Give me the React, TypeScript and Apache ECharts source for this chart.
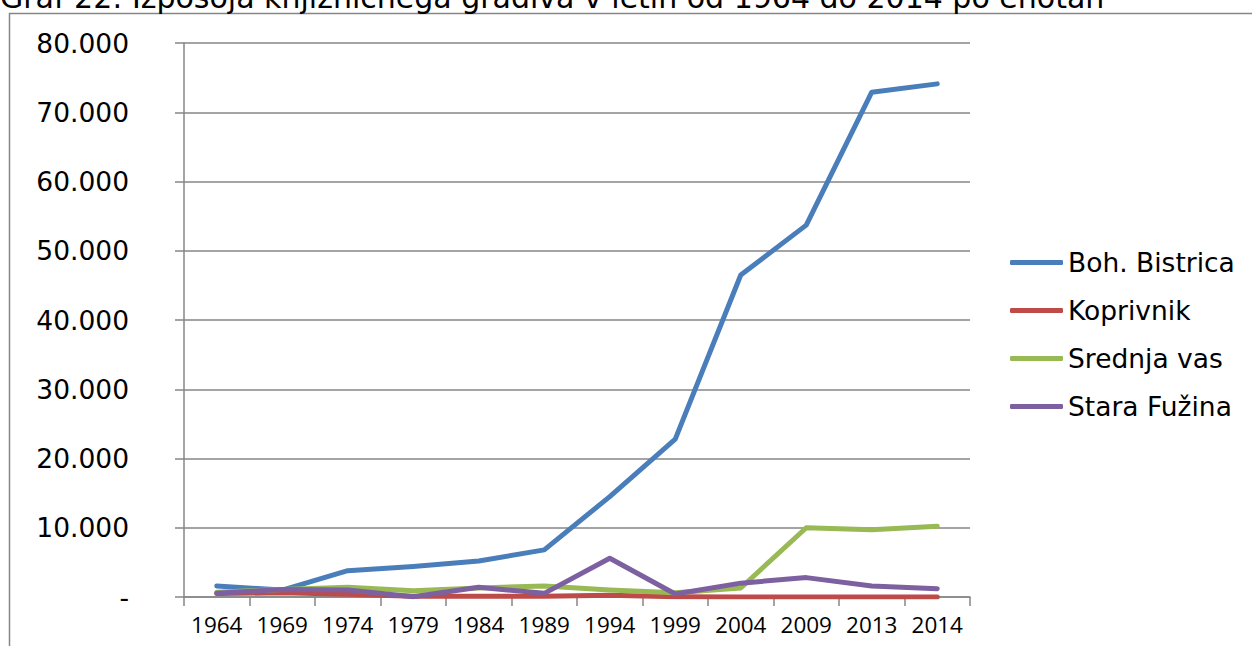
import React, { useEffect, useRef } from "react";
import * as echarts from "echarts";

const TITLE = "Graf 22: Izposoja knjižničnega gradiva v letih od 1964 do 2014 po enotah";
const years = ["1964", "1969", "1974", "1979", "1984", "1989", "1994", "1999", "2004", "2009", "2013", "2014"];
const bohBistrica = [1600, 1000, 3800, 4400, 5200, 6800, 14500, 22800, 46500, 53700, 72900, 74100];
const koprivnik = [500, 600, 400, 100, 100, 100, 250, 50, 0, 0, 0, 0];
const srednjaVas = [700, 1100, 1400, 900, 1300, 1600, 1000, 600, 1300, 10000, 9700, 10200];
const staraFuzina = [530, 1100, 1000, 50, 1400, 530, 5600, 430, 2000, 2800, 1600, 1200];
const seriesNames = ["Boh. Bistrica", "Koprivnik", "Srednja vas", "Stara Fužina"];
const seriesColors = ["#4A7EBB", "#BE4B48", "#98B954", "#7D60A0"];

export default function App() {
  const ref = useRef<HTMLDivElement>(null);
  useEffect(() => {
    if (!ref.current) return;
    const chart = echarts.init(ref.current, null, { renderer: "svg" });
    const data = [bohBistrica, koprivnik, srednjaVas, staraFuzina];
    chart.setOption({
      animation: false,
      backgroundColor: "#ffffff",
      graphic: [
        {
          type: "rect",
          shape: { x: 9.5, y: 13.5, width: 1400, height: 800 },
          style: { fill: "none", stroke: "#868686", lineWidth: 1.5 },
          silent: true,
          z: 0,
        },
        {
          type: "text",
          x: 0,
          y: 12,
          style: {
            text: TITLE,
            fontFamily: "DejaVu Sans",
            fontSize: 30,
            fill: "#000",
            textVerticalAlign: "bottom",
          },
          silent: true,
          z: 1,
        },
      ],
      grid: { left: 184, right: 282, top: 43, bottom: 49, containLabel: false },
      legend: {
        orient: "vertical",
        left: 1010,
        top: 249,
        padding: 0,
        itemWidth: 53,
        itemHeight: 5,
        itemGap: 21,
        icon: "roundRect",
        textStyle: { fontFamily: "DejaVu Sans", fontSize: 26.5, color: "#000" },
        data: seriesNames,
      },
      xAxis: {
        type: "category",
        data: years,
        boundaryGap: true,
        axisLine: { lineStyle: { color: "#868686", width: 1.5 } },
        axisTick: { show: true, length: 9, lineStyle: { color: "#868686", width: 1.5 } },
        axisLabel: { fontFamily: "Open Sans", fontSize: 22.5, color: "#000", margin: 16, interval: 0 },
      },
      yAxis: {
        type: "value",
        min: 0,
        max: 80000,
        interval: 10000,
        axisLine: { show: true, lineStyle: { color: "#868686", width: 1.5 } },
        axisTick: { show: true, length: 9, lineStyle: { color: "#868686", width: 1.5 } },
        splitLine: { lineStyle: { color: "#868686", width: 1.5 } },
        axisLabel: {
          fontFamily: "DejaVu Sans",
          fontSize: 26.5,
          color: "#000",
          margin: 55,
          formatter: (v: number) => (v === 0 ? "-" : `${v / 1000}.000`),
        },
      },
      series: seriesNames.map((name, i) => ({
        name,
        type: "line",
        data: data[i],
        symbol: "none",
        color: seriesColors[i],
        itemStyle: { color: seriesColors[i] },
        lineStyle: { width: 5, color: seriesColors[i], cap: "round", join: "round" },
        z: 2,
      })),
    });
    return () => chart.dispose();
  }, []);
  return <div ref={ref} style={{ position: "fixed", left: 0, top: 0, width: 1252, height: 646 }} />;
}
